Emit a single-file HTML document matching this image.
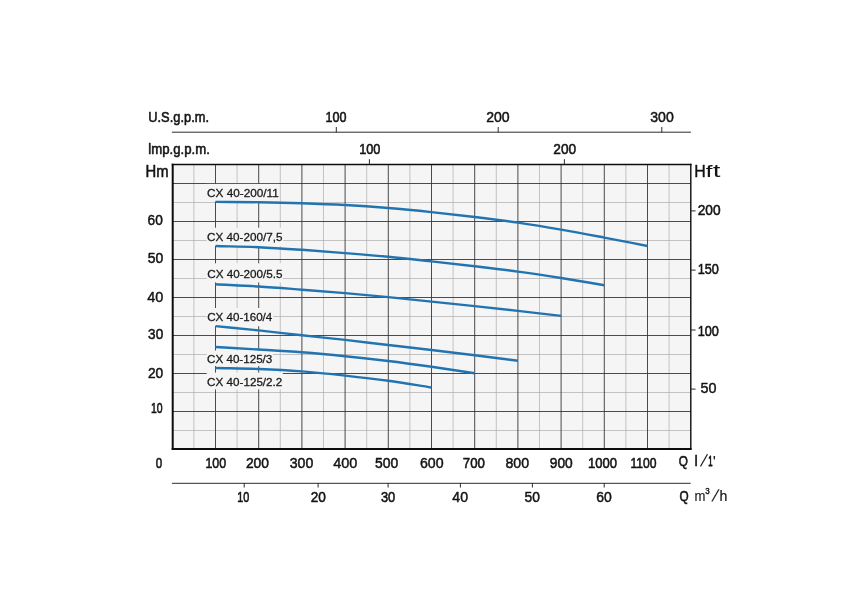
<!DOCTYPE html>
<html lang="en"><head><meta charset="utf-8"><title>CX 40 pump performance curves</title>
<style>
html,body{margin:0;padding:0;background:#fff;}
body{width:865px;height:615px;overflow:hidden;}
svg{display:block;font-family:"Liberation Sans",sans-serif;}
</style></head>
<body>
<svg width="865" height="615" viewBox="0 0 865 615">
<rect x="0" y="0" width="865" height="615" fill="#ffffff"/>
<rect x="172.7" y="164.5" width="518.1" height="284.5" fill="#f5f5f5"/>
<line x1="193.90" y1="164.5" x2="193.90" y2="449.0" stroke="#adadad" stroke-width="0.7"/>
<line x1="237.10" y1="164.5" x2="237.10" y2="449.0" stroke="#adadad" stroke-width="0.7"/>
<line x1="280.30" y1="164.5" x2="280.30" y2="449.0" stroke="#adadad" stroke-width="0.7"/>
<line x1="323.50" y1="164.5" x2="323.50" y2="449.0" stroke="#adadad" stroke-width="0.7"/>
<line x1="366.70" y1="164.5" x2="366.70" y2="449.0" stroke="#adadad" stroke-width="0.7"/>
<line x1="409.90" y1="164.5" x2="409.90" y2="449.0" stroke="#adadad" stroke-width="0.7"/>
<line x1="453.10" y1="164.5" x2="453.10" y2="449.0" stroke="#adadad" stroke-width="0.7"/>
<line x1="496.30" y1="164.5" x2="496.30" y2="449.0" stroke="#adadad" stroke-width="0.7"/>
<line x1="539.50" y1="164.5" x2="539.50" y2="449.0" stroke="#adadad" stroke-width="0.7"/>
<line x1="582.70" y1="164.5" x2="582.70" y2="449.0" stroke="#adadad" stroke-width="0.7"/>
<line x1="625.90" y1="164.5" x2="625.90" y2="449.0" stroke="#adadad" stroke-width="0.7"/>
<line x1="669.10" y1="164.5" x2="669.10" y2="449.0" stroke="#adadad" stroke-width="0.7"/>
<line x1="172.7" y1="430.50" x2="690.8" y2="430.50" stroke="#adadad" stroke-width="0.7"/>
<line x1="172.7" y1="392.50" x2="690.8" y2="392.50" stroke="#adadad" stroke-width="0.7"/>
<line x1="172.7" y1="354.50" x2="690.8" y2="354.50" stroke="#adadad" stroke-width="0.7"/>
<line x1="172.7" y1="316.50" x2="690.8" y2="316.50" stroke="#adadad" stroke-width="0.7"/>
<line x1="172.7" y1="278.50" x2="690.8" y2="278.50" stroke="#adadad" stroke-width="0.7"/>
<line x1="172.7" y1="240.50" x2="690.8" y2="240.50" stroke="#adadad" stroke-width="0.7"/>
<line x1="172.7" y1="202.50" x2="690.8" y2="202.50" stroke="#adadad" stroke-width="0.7"/>
<line x1="215.50" y1="164.5" x2="215.50" y2="449.0" stroke="#333333" stroke-width="0.88"/>
<line x1="258.70" y1="164.5" x2="258.70" y2="449.0" stroke="#333333" stroke-width="0.88"/>
<line x1="301.90" y1="164.5" x2="301.90" y2="449.0" stroke="#333333" stroke-width="0.88"/>
<line x1="345.10" y1="164.5" x2="345.10" y2="449.0" stroke="#333333" stroke-width="0.88"/>
<line x1="388.30" y1="164.5" x2="388.30" y2="449.0" stroke="#333333" stroke-width="0.88"/>
<line x1="431.50" y1="164.5" x2="431.50" y2="449.0" stroke="#333333" stroke-width="0.88"/>
<line x1="474.70" y1="164.5" x2="474.70" y2="449.0" stroke="#333333" stroke-width="0.88"/>
<line x1="517.90" y1="164.5" x2="517.90" y2="449.0" stroke="#333333" stroke-width="0.88"/>
<line x1="561.10" y1="164.5" x2="561.10" y2="449.0" stroke="#333333" stroke-width="0.88"/>
<line x1="604.30" y1="164.5" x2="604.30" y2="449.0" stroke="#333333" stroke-width="0.88"/>
<line x1="647.50" y1="164.5" x2="647.50" y2="449.0" stroke="#333333" stroke-width="0.88"/>
<line x1="172.7" y1="411.50" x2="690.8" y2="411.50" stroke="#333333" stroke-width="0.88"/>
<line x1="172.7" y1="373.50" x2="690.8" y2="373.50" stroke="#333333" stroke-width="0.88"/>
<line x1="172.7" y1="335.50" x2="690.8" y2="335.50" stroke="#333333" stroke-width="0.88"/>
<line x1="172.7" y1="297.50" x2="690.8" y2="297.50" stroke="#333333" stroke-width="0.88"/>
<line x1="172.7" y1="259.50" x2="690.8" y2="259.50" stroke="#333333" stroke-width="0.88"/>
<line x1="172.7" y1="221.50" x2="690.8" y2="221.50" stroke="#333333" stroke-width="0.88"/>
<line x1="172.7" y1="183.50" x2="690.8" y2="183.50" stroke="#333333" stroke-width="0.88"/>
<rect x="206.7" y="183.9" width="72.6" height="17.6" fill="#f5f5f5"/>
<rect x="206.7" y="227.7" width="76.5" height="18.3" fill="#f5f5f5"/>
<rect x="206.7" y="263.3" width="76.2" height="19.1" fill="#f5f5f5"/>
<rect x="206.7" y="308.0" width="66.5" height="18.2" fill="#f5f5f5"/>
<rect x="206.7" y="350.5" width="66.3" height="15.5" fill="#f5f5f5"/>
<rect x="206.7" y="372.6" width="76.1" height="16.8" fill="#f5f5f5"/>
<line x1="172.7" y1="163.75" x2="172.7" y2="450.0" stroke="#0c0c0c" stroke-width="2.0"/>
<line x1="171.7" y1="449.0" x2="691.55" y2="449.0" stroke="#0c0c0c" stroke-width="2.0"/>
<line x1="171.7" y1="164.5" x2="691.55" y2="164.5" stroke="#0c0c0c" stroke-width="1.5"/>
<line x1="690.8" y1="163.75" x2="690.8" y2="450.0" stroke="#0c0c0c" stroke-width="1.4"/>
<line x1="171.9" y1="132.2" x2="690.9" y2="132.2" stroke="#2c2c2c" stroke-width="1"/>
<line x1="336.3" y1="127.0" x2="336.3" y2="132.4" stroke="#2c2c2c" stroke-width="1"/>
<line x1="498.2" y1="127.0" x2="498.2" y2="132.4" stroke="#2c2c2c" stroke-width="1"/>
<line x1="661.8" y1="127.0" x2="661.8" y2="132.4" stroke="#2c2c2c" stroke-width="1"/>
<line x1="369.4" y1="159.2" x2="369.4" y2="164.4" stroke="#2c2c2c" stroke-width="1"/>
<line x1="564.4" y1="159.2" x2="564.4" y2="164.4" stroke="#2c2c2c" stroke-width="1"/>
<line x1="171.9" y1="483.3" x2="690.7" y2="483.3" stroke="#2c2c2c" stroke-width="1"/>
<line x1="244.2" y1="483.0" x2="244.2" y2="487.5" stroke="#2c2c2c" stroke-width="1"/>
<line x1="318.1" y1="483.0" x2="318.1" y2="487.5" stroke="#2c2c2c" stroke-width="1"/>
<line x1="388.1" y1="483.0" x2="388.1" y2="487.5" stroke="#2c2c2c" stroke-width="1"/>
<line x1="460.4" y1="483.0" x2="460.4" y2="487.5" stroke="#2c2c2c" stroke-width="1"/>
<line x1="532.4" y1="483.0" x2="532.4" y2="487.5" stroke="#2c2c2c" stroke-width="1"/>
<line x1="604.2" y1="483.0" x2="604.2" y2="487.5" stroke="#2c2c2c" stroke-width="1"/>
<line x1="690.8" y1="210.9" x2="695.6" y2="210.9" stroke="#2c2c2c" stroke-width="1"/>
<line x1="690.8" y1="270.1" x2="695.6" y2="270.1" stroke="#2c2c2c" stroke-width="1"/>
<line x1="690.8" y1="330.0" x2="695.6" y2="330.0" stroke="#2c2c2c" stroke-width="1"/>
<line x1="690.8" y1="389.1" x2="695.6" y2="389.1" stroke="#2c2c2c" stroke-width="1"/>
<path d="M215.50,201.90 C229.90,202.00 244.30,201.98 258.70,202.20 C273.10,202.42 287.50,202.73 301.90,203.20 C316.30,203.67 330.70,204.20 345.10,205.00 C359.50,205.80 373.90,206.82 388.30,208.00 C402.70,209.18 417.10,210.60 431.50,212.10 C445.90,213.60 460.30,215.25 474.70,217.00 C489.10,218.75 503.50,220.50 517.90,222.60 C532.30,224.70 546.70,227.10 561.10,229.60 C575.50,232.10 589.90,234.87 604.30,237.60 C618.70,240.33 633.10,243.20 647.50,246.00" fill="none" stroke="#2274b0" stroke-width="2.4"/>
<path d="M215.50,246.00 C229.90,246.40 244.30,246.57 258.70,247.20 C273.10,247.83 287.50,248.82 301.90,249.80 C316.30,250.78 330.70,251.93 345.10,253.10 C359.50,254.27 373.90,255.42 388.30,256.80 C402.70,258.18 417.10,259.82 431.50,261.40 C445.90,262.98 460.30,264.60 474.70,266.30 C489.10,268.00 503.50,269.65 517.90,271.60 C532.30,273.55 546.70,275.73 561.10,278.00 C575.50,280.27 589.90,282.80 604.30,285.20" fill="none" stroke="#2274b0" stroke-width="2.4"/>
<path d="M215.50,284.20 C229.90,284.97 244.30,285.58 258.70,286.50 C273.10,287.42 287.50,288.60 301.90,289.70 C316.30,290.80 330.70,291.87 345.10,293.10 C359.50,294.33 373.90,295.68 388.30,297.10 C402.70,298.52 417.10,300.10 431.50,301.60 C445.90,303.10 460.30,304.55 474.70,306.10 C489.10,307.65 503.50,309.27 517.90,310.90 C532.30,312.53 546.70,314.23 561.10,315.90" fill="none" stroke="#2274b0" stroke-width="2.4"/>
<path d="M215.50,326.10 C229.90,327.53 244.30,328.87 258.70,330.40 C273.10,331.93 287.50,333.72 301.90,335.30 C316.30,336.88 330.70,338.28 345.10,339.90 C359.50,341.52 373.90,343.32 388.30,345.00 C402.70,346.68 417.10,348.28 431.50,350.00 C445.90,351.72 460.30,353.50 474.70,355.30 C489.10,357.10 503.50,358.97 517.90,360.80" fill="none" stroke="#2274b0" stroke-width="2.4"/>
<path d="M215.50,347.00 C229.90,347.83 244.30,348.62 258.70,349.50 C273.10,350.38 287.50,351.18 301.90,352.30 C316.30,353.42 330.70,354.75 345.10,356.20 C359.50,357.65 373.90,359.23 388.30,361.00 C402.70,362.77 417.10,364.77 431.50,366.80 C445.90,368.83 460.30,371.07 474.70,373.20" fill="none" stroke="#2274b0" stroke-width="2.4"/>
<path d="M215.50,368.00 C229.90,368.33 244.30,368.43 258.70,369.00 C273.10,369.57 287.50,370.30 301.90,371.40 C316.30,372.50 330.70,374.03 345.10,375.60 C359.50,377.17 373.90,378.82 388.30,380.80 C402.70,382.78 417.10,385.27 431.50,387.50" fill="none" stroke="#2274b0" stroke-width="2.4"/>
<g opacity="0.999">
<text transform="translate(148.24,122.00) scale(0.8889,1)" font-size="14.49" fill="#141414" stroke="#141414" stroke-width="0.5461582459485221" vector-effect="non-scaling-stroke" stroke-linejoin="round">U.S.g.p.m.</text>
<text transform="translate(148.34,153.90) scale(0.9384,1)" font-size="14.04" fill="#141414" stroke="#141414" stroke-width="0.5412514757969298" vector-effect="non-scaling-stroke" stroke-linejoin="round">lmp.g.p.m.</text>
<text transform="translate(145.50,176.70) scale(0.8884,1)" font-size="16.69" fill="#141414" stroke="#141414" stroke-width="0.5218304172274559" vector-effect="non-scaling-stroke" stroke-linejoin="round">Hm</text>
<text transform="translate(694.17,177.10) scale(0.9379,1)" font-size="16.93" fill="#141414" stroke="#141414" stroke-width="0.41956302521009037" vector-effect="non-scaling-stroke" stroke-linejoin="round">H</text>
<text transform="translate(705.73,177.10) scale(1.4681,1)" font-size="16.34" fill="#141414" stroke="#141414" stroke-width="0.1" vector-effect="non-scaling-stroke" stroke-linejoin="round">f</text>
<text transform="translate(713.06,177.10) scale(1.4685,1)" font-size="17.85" fill="#141414" stroke="#141414" stroke-width="0.1" vector-effect="non-scaling-stroke" stroke-linejoin="round">t</text>
<text transform="translate(325.48,121.90) scale(0.8303,1)" font-size="15.14" fill="#141414" stroke="#141414" stroke-width="0.55" vector-effect="non-scaling-stroke" stroke-linejoin="round">100</text>
<text transform="translate(486.20,121.90) scale(0.9253,1)" font-size="15.19" fill="#141414" stroke="#141414" stroke-width="0.49281351526965933" vector-effect="non-scaling-stroke" stroke-linejoin="round">200</text>
<text transform="translate(650.26,122.00) scale(0.9271,1)" font-size="15.19" fill="#141414" stroke="#141414" stroke-width="0.4907870967742009" vector-effect="non-scaling-stroke" stroke-linejoin="round">300</text>
<text transform="translate(359.16,153.90) scale(0.8430,1)" font-size="15.14" fill="#141414" stroke="#141414" stroke-width="0.55" vector-effect="non-scaling-stroke" stroke-linejoin="round">100</text>
<text transform="translate(553.33,153.90) scale(0.9051,1)" font-size="15.16" fill="#141414" stroke="#141414" stroke-width="0.5198440545809004" vector-effect="non-scaling-stroke" stroke-linejoin="round">200</text>
<text transform="translate(147.62,224.60) scale(0.9008,1)" font-size="15.17" fill="#141414" stroke="#141414" stroke-width="0.5099699097291853" vector-effect="non-scaling-stroke" stroke-linejoin="round">60</text>
<text transform="translate(147.75,262.90) scale(0.9168,1)" font-size="15.19" fill="#141414" stroke="#141414" stroke-width="0.488937437934456" vector-effect="non-scaling-stroke" stroke-linejoin="round">50</text>
<text transform="translate(147.14,301.60) scale(0.9525,1)" font-size="15.23" fill="#141414" stroke="#141414" stroke-width="0.4443749999999987" vector-effect="non-scaling-stroke" stroke-linejoin="round">40</text>
<text transform="translate(148.09,339.00) scale(0.8960,1)" font-size="15.17" fill="#141414" stroke="#141414" stroke-width="0.5161149653121884" vector-effect="non-scaling-stroke" stroke-linejoin="round">30</text>
<text transform="translate(147.92,377.60) scale(0.9068,1)" font-size="15.18" fill="#141414" stroke="#141414" stroke-width="0.5028456913827637" vector-effect="non-scaling-stroke" stroke-linejoin="round">20</text>
<text transform="translate(150.94,413.20) scale(0.6909,1)" font-size="15.14" fill="#141414" stroke="#141414" stroke-width="0.55" vector-effect="non-scaling-stroke" stroke-linejoin="round">10</text>
<text transform="translate(155.78,467.70) scale(0.7639,1)" font-size="15.14" fill="#141414" stroke="#141414" stroke-width="0.55" vector-effect="non-scaling-stroke" stroke-linejoin="round">0</text>
<text transform="translate(205.39,467.80) scale(0.8175,1)" font-size="15.14" fill="#141414" stroke="#141414" stroke-width="0.55" vector-effect="non-scaling-stroke" stroke-linejoin="round">100</text>
<text transform="translate(245.92,467.80) scale(0.9127,1)" font-size="15.17" fill="#141414" stroke="#141414" stroke-width="0.5090318388564" vector-effect="non-scaling-stroke" stroke-linejoin="round">200</text>
<text transform="translate(289.75,467.80) scale(0.9314,1)" font-size="15.19" fill="#141414" stroke="#141414" stroke-width="0.48541935483871274" vector-effect="non-scaling-stroke" stroke-linejoin="round">300</text>
<text transform="translate(333.15,467.80) scale(0.9547,1)" font-size="15.22" fill="#141414" stroke="#141414" stroke-width="0.45472204472843697" vector-effect="non-scaling-stroke" stroke-linejoin="round">400</text>
<text transform="translate(375.05,467.80) scale(0.9190,1)" font-size="15.18" fill="#141414" stroke="#141414" stroke-width="0.49994832041344045" vector-effect="non-scaling-stroke" stroke-linejoin="round">500</text>
<text transform="translate(419.98,467.80) scale(0.9335,1)" font-size="15.20" fill="#141414" stroke="#141414" stroke-width="0.48119635890767665" vector-effect="non-scaling-stroke" stroke-linejoin="round">600</text>
<text transform="translate(462.85,467.80) scale(0.8758,1)" font-size="15.14" fill="#141414" stroke="#141414" stroke-width="0.55" vector-effect="non-scaling-stroke" stroke-linejoin="round">700</text>
<text transform="translate(505.48,467.80) scale(0.9334,1)" font-size="15.20" fill="#141414" stroke="#141414" stroke-width="0.4814239482200648" vector-effect="non-scaling-stroke" stroke-linejoin="round">800</text>
<text transform="translate(549.77,467.80) scale(0.9065,1)" font-size="15.17" fill="#141414" stroke="#141414" stroke-width="0.5167833981841788" vector-effect="non-scaling-stroke" stroke-linejoin="round">900</text>
<text transform="translate(587.94,467.80) scale(0.8618,1)" font-size="15.14" fill="#141414" stroke="#141414" stroke-width="0.55" vector-effect="non-scaling-stroke" stroke-linejoin="round">1000</text>
<text transform="translate(630.51,467.80) scale(0.8024,1)" font-size="15.14" fill="#141414" stroke="#141414" stroke-width="0.55" vector-effect="non-scaling-stroke" stroke-linejoin="round">1100</text>
<text transform="translate(237.31,501.50) scale(0.7174,1)" font-size="15.14" fill="#141414" stroke="#141414" stroke-width="0.55" vector-effect="non-scaling-stroke" stroke-linejoin="round">10</text>
<text transform="translate(310.63,501.50) scale(0.8998,1)" font-size="15.17" fill="#141414" stroke="#141414" stroke-width="0.5111823647294637" vector-effect="non-scaling-stroke" stroke-linejoin="round">20</text>
<text transform="translate(380.95,501.50) scale(0.8501,1)" font-size="15.14" fill="#141414" stroke="#141414" stroke-width="0.55" vector-effect="non-scaling-stroke" stroke-linejoin="round">30</text>
<text transform="translate(452.37,501.50) scale(0.9274,1)" font-size="15.20" fill="#141414" stroke="#141414" stroke-width="0.47687500000000377" vector-effect="non-scaling-stroke" stroke-linejoin="round">40</text>
<text transform="translate(524.46,501.50) scale(0.9099,1)" font-size="15.18" fill="#141414" stroke="#141414" stroke-width="0.49719960278054004" vector-effect="non-scaling-stroke" stroke-linejoin="round">50</text>
<text transform="translate(596.29,501.50) scale(0.9208,1)" font-size="15.19" fill="#141414" stroke="#141414" stroke-width="0.48493480441324366" vector-effect="non-scaling-stroke" stroke-linejoin="round">60</text>
<text transform="translate(697.73,215.10) scale(0.9051,1)" font-size="15.16" fill="#141414" stroke="#141414" stroke-width="0.5198440545808943" vector-effect="non-scaling-stroke" stroke-linejoin="round">200</text>
<text transform="translate(697.67,274.40) scale(0.8388,1)" font-size="15.14" fill="#141414" stroke="#141414" stroke-width="0.55" vector-effect="non-scaling-stroke" stroke-linejoin="round">150</text>
<text transform="translate(697.67,335.80) scale(0.8388,1)" font-size="15.14" fill="#141414" stroke="#141414" stroke-width="0.55" vector-effect="non-scaling-stroke" stroke-linejoin="round">100</text>
<text transform="translate(700.40,393.10) scale(0.9434,1)" font-size="15.22" fill="#141414" stroke="#141414" stroke-width="0.45588877855015286" vector-effect="non-scaling-stroke" stroke-linejoin="round">50</text>
<text transform="translate(678.87,465.90) scale(0.7890,1)" font-size="14.92" fill="#141414" stroke="#141414" stroke-width="0.55" vector-effect="non-scaling-stroke" stroke-linejoin="round">Q</text>
<text transform="translate(694.57,465.90) scale(1.0272,1)" font-size="14.21" fill="#141414" stroke="#141414" stroke-width="0.5" vector-effect="non-scaling-stroke" stroke-linejoin="round">l</text>
<text transform="translate(699.90,466.10) skewX(-17)" font-size="16.20" fill="#141414" stroke="#141414" stroke-width="0.1" vector-effect="non-scaling-stroke" stroke-linejoin="round">/</text>
<text transform="translate(708.14,465.90) scale(0.5255,1)" font-size="14.75" fill="#141414" stroke="#141414" stroke-width="0.75" vector-effect="non-scaling-stroke" stroke-linejoin="round">1</text>
<text transform="translate(713.02,465.90) scale(0.9905,1)" font-size="14.46" fill="#141414" stroke="#141414" stroke-width="0.2" vector-effect="non-scaling-stroke" stroke-linejoin="round">'</text>
<text transform="translate(679.58,500.50) scale(0.7963,1)" font-size="14.78" fill="#141414" stroke="#141414" stroke-width="0.55" vector-effect="non-scaling-stroke" stroke-linejoin="round">Q</text>
<text transform="translate(694.54,500.50) scale(0.9186,1)" font-size="14.27" fill="#141414" stroke="#141414" stroke-width="0.1" vector-effect="non-scaling-stroke" stroke-linejoin="round">m</text>
<text transform="translate(705.25,493.60) scale(0.9339,1)" font-size="8.54" fill="#141414" stroke="#141414" stroke-width="0.3913307984791091" vector-effect="non-scaling-stroke" stroke-linejoin="round">3</text>
<text transform="translate(711.60,501.30) skewX(-17)" font-size="16.20" fill="#141414" stroke="#141414" stroke-width="0.1" vector-effect="non-scaling-stroke" stroke-linejoin="round">/</text>
<text transform="translate(719.38,500.50) scale(0.9897,1)" font-size="14.32" fill="#141414" stroke="#141414" stroke-width="0.2" vector-effect="non-scaling-stroke" stroke-linejoin="round">h</text>
<text transform="translate(207.11,197.40) scale(1.0151,1)" font-size="11.58" fill="#1a1a1a" stroke="#1a1a1a" stroke-width="0.3" vector-effect="non-scaling-stroke" stroke-linejoin="round">CX 40-200/11</text>
<text transform="translate(207.12,241.10) scale(1.0096,1)" font-size="11.58" fill="#1a1a1a" stroke="#1a1a1a" stroke-width="0.3" vector-effect="non-scaling-stroke" stroke-linejoin="round">CX 40-200/7,5</text>
<text transform="translate(207.22,277.70) scale(1.0096,1)" font-size="11.58" fill="#1a1a1a" stroke="#1a1a1a" stroke-width="0.3" vector-effect="non-scaling-stroke" stroke-linejoin="round">CX 40-200/5.5</text>
<text transform="translate(207.22,321.30) scale(1.0017,1)" font-size="11.58" fill="#1a1a1a" stroke="#1a1a1a" stroke-width="0.3" vector-effect="non-scaling-stroke" stroke-linejoin="round">CX 40-160/4</text>
<text transform="translate(207.12,363.00) scale(1.0098,1)" font-size="11.51" fill="#1a1a1a" stroke="#1a1a1a" stroke-width="0.3" vector-effect="non-scaling-stroke" stroke-linejoin="round">CX 40-125/3</text>
<text transform="translate(207.11,385.90) scale(1.0149,1)" font-size="11.51" fill="#1a1a1a" stroke="#1a1a1a" stroke-width="0.3" vector-effect="non-scaling-stroke" stroke-linejoin="round">CX 40-125/2.2</text>
</g>
</svg>
</body></html>
